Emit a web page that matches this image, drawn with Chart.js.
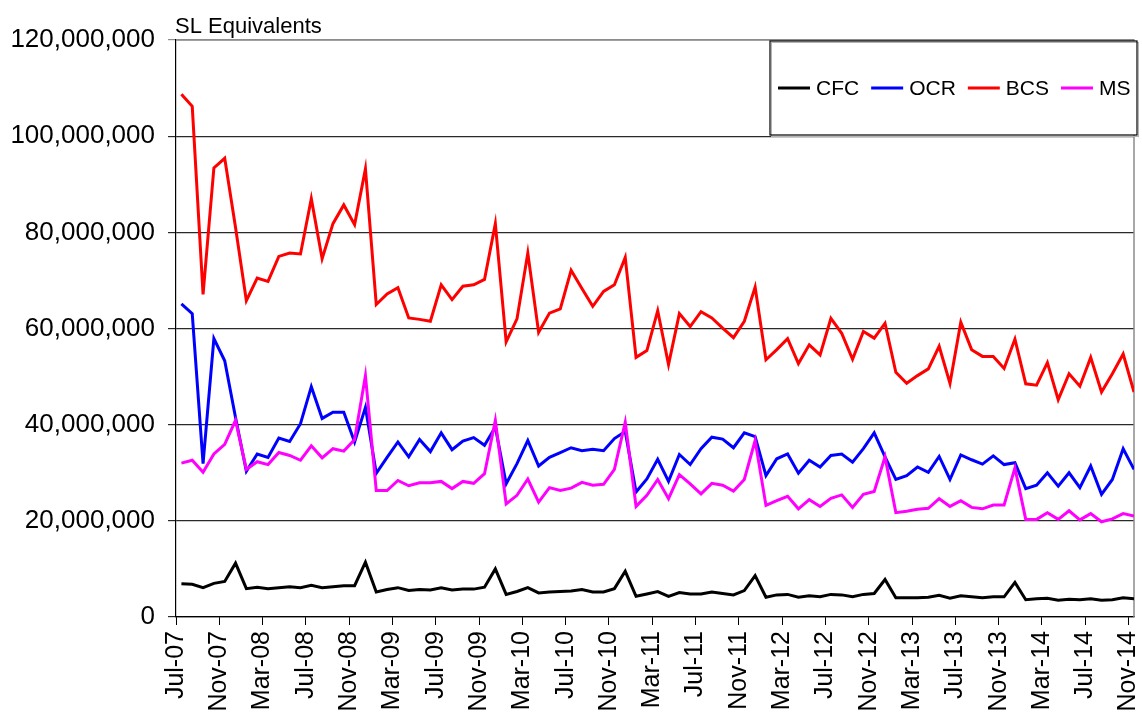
<!DOCTYPE html>
<html>
<head>
<meta charset="utf-8">
<script src="https://cdn.jsdelivr.net/npm/chart.js@4"></script>
<style>
  html, body { margin: 0; padding: 0; background: #fff; }
  #wrap { width: 1142px; height: 720px; position: relative; }
</style>
</head>
<body>
<div id="wrap"><canvas id="chart"></canvas></div>
<script>
// ================= DATA =================
// monthly values in millions, Jul-07 .. Nov-14 (89 months)
const tickLabels = [
    "Jul-07", "Nov-07", "Mar-08", "Jul-08", "Nov-08", "Mar-09", "Jul-09", "Nov-09",
    "Mar-10", "Jul-10", "Nov-10", "Mar-11", "Jul-11", "Nov-11", "Mar-12", "Jul-12",
    "Nov-12", "Mar-13", "Jul-13", "Nov-13", "Mar-14", "Jul-14", "Nov-14"
];
const monthsPerTick = 4;

const cfc = [
    6.9, 6.8, 6.1, 7.0, 7.4, 11.2, 5.9, 6.2, 5.9, 6.1, 6.3, 6.1, 6.6, 6.1, 6.3, 6.5, 6.5, 11.4,
    5.2, 5.7, 6.1, 5.5, 5.7, 5.6, 6.1, 5.6, 5.8, 5.8, 6.2, 10.0,
    4.7, 5.3, 6.1, 5.0, 5.2, 5.3, 5.4, 5.7, 5.2, 5.2, 5.9, 9.5,
    4.3, 4.8, 5.3, 4.3, 5.1, 4.8, 4.8, 5.2, 4.9, 4.6, 5.5, 8.6,
    4.1, 4.6, 4.7, 4.1, 4.4, 4.2, 4.7, 4.6, 4.2, 4.7, 4.9, 7.8,
    4.0, 4.0, 4.0, 4.1, 4.5, 3.9, 4.4, 4.2, 4.0, 4.2, 4.2, 7.2,
    3.6, 3.8, 3.9, 3.5, 3.7, 3.6, 3.8, 3.5, 3.6, 4.0, 3.8
];
const ocr = [
    65.1, 63.1, 31.9, 57.9, 53.3, 41.5, 30.3, 33.9, 33.2, 37.2, 36.5, 40.2, 47.9, 41.3, 42.6, 42.6, 36.4, 43.6,
    29.9, 33.2, 36.4, 33.3, 36.9, 34.4, 38.3, 34.8, 36.6, 37.3, 35.7, 39.5,
    27.7, 31.9, 36.7, 31.4, 33.2, 34.2, 35.2, 34.6, 34.9, 34.6, 37.1, 38.6,
    26.0, 28.7, 32.8, 28.2, 33.8, 31.7, 35.0, 37.4, 37.0, 35.2, 38.3, 37.5,
    29.4, 32.9, 33.9, 29.9, 32.6, 31.2, 33.6, 33.9, 32.2, 35.0, 38.3, 33.3,
    28.6, 29.4, 31.2, 30.1, 33.4, 28.6, 33.7, 32.7, 31.8, 33.5, 31.7, 32.1,
    26.7, 27.4, 30.0, 27.2, 30.0, 26.9, 31.4, 25.5, 28.6, 35.0, 30.7
];
const bcs = [
    108.7, 106.2, 67.1, 93.4, 95.4, 81.0, 65.8, 70.5, 69.8, 75.0, 75.7, 75.5, 87.0, 74.5, 81.8, 85.7, 81.6, 93.2,
    65.0, 67.2, 68.5, 62.2, 61.9, 61.5, 69.1, 66.0, 68.8, 69.1, 70.2, 81.8,
    57.2, 62.0, 75.7, 59.2, 63.2, 64.1, 72.1, 68.3, 64.6, 67.7, 69.1, 74.8,
    54.0, 55.4, 63.7, 52.5, 63.1, 60.4, 63.5, 62.2, 60.1, 58.1, 61.5, 68.6,
    53.5, 55.6, 57.9, 52.7, 56.6, 54.5, 62.1, 59.0, 53.6, 59.4, 58.0, 61.1,
    50.9, 48.6, 50.2, 51.6, 56.3, 48.6, 61.3, 55.6, 54.2, 54.2, 51.7, 57.8,
    48.5, 48.2, 52.9, 45.2, 50.6, 48.0, 54.0, 46.8, 50.6, 54.7, 46.8
];
const ms = [
    32.0, 32.6, 30.1, 33.9, 35.9, 40.9, 30.7, 32.3, 31.7, 34.2, 33.6, 32.6, 35.6, 33.1, 35.0, 34.5, 36.9, 50.2,
    26.3, 26.3, 28.4, 27.3, 27.9, 27.9, 28.2, 26.7, 28.2, 27.8, 29.8, 40.9,
    23.5, 25.3, 28.7, 23.9, 26.9, 26.3, 26.8, 28.0, 27.4, 27.6, 30.7, 40.5,
    23.0, 25.3, 28.6, 24.6, 29.6, 27.7, 25.6, 27.8, 27.4, 26.2, 28.6, 36.7,
    23.2, 24.2, 25.1, 22.5, 24.4, 23.0, 24.7, 25.4, 22.8, 25.5, 26.1, 33.3,
    21.7, 22.0, 22.4, 22.6, 24.6, 23.0, 24.2, 22.8, 22.5, 23.3, 23.3, 31.0,
    20.3, 20.3, 21.7, 20.3, 22.1, 20.2, 21.5, 19.8, 20.4, 21.5, 21.0
];

const seriesNames = ["CFC", "OCR", "BCS", "MS"];
const seriesValues = [cfc, ocr, bcs, ms];
const seriesColors = ["#000000", "#0000ff", "#ff0000", "#ff00ff"];

const yTitle = "SL Equivalents";
const yMax = 120000000;
const yStep = 20000000;
const UNIT = 1000000;

const FONT = "'Liberation Sans', Arial, sans-serif";
Chart.defaults.font.family = FONT;
Chart.defaults.color = "#000";


// ================= HELPERS =================
// values sit in the middle of their month
function toPoints(values) {
    return values.map((v, i) => ({ x: i + 0.5, y: v * UNIT }));
}

const monthCount = cfc.length;


// ================= PLUGIN: frame, title, legend =================
const framePlugin = {
    id: "frame",
    beforeDatasetsDraw(chart) {
        const { ctx, chartArea: a } = chart;
        ctx.save();
        ctx.strokeStyle = "#8c8c8c";
        ctx.lineWidth = 1.5;
        ctx.beginPath();
        ctx.moveTo(a.left, a.top);
        ctx.lineTo(a.right, a.top);
        ctx.lineTo(a.right, a.bottom);
        ctx.stroke();
        ctx.restore();
    },
    afterDraw(chart) {
        const { ctx, chartArea: a } = chart;
        ctx.save();

        // axis title above the plot
        ctx.font = "22px " + FONT;
        ctx.fillStyle = "#000";
        ctx.textAlign = "left";
        ctx.textBaseline = "alphabetic";
        ctx.fillText(yTitle, a.left - 1, a.top - 7);

        // legend box
        const boxRight = a.right + 3;
        const boxLeft = boxRight - 367;
        const boxTop = a.top + 1;
        const boxH = 94;
        ctx.fillStyle = "#fff";
        ctx.fillRect(boxLeft, boxTop, boxRight - boxLeft, boxH);
        ctx.strokeStyle = "#b4b4b4";
        ctx.lineWidth = 1;
        ctx.strokeRect(boxLeft + 1.5, boxTop + 1.5, boxRight - boxLeft, boxH);
        ctx.strokeStyle = "#000";
        ctx.lineWidth = 1.2;
        ctx.strokeRect(boxLeft, boxTop, boxRight - boxLeft, boxH);

        ctx.font = "21px " + FONT;
        ctx.textBaseline = "middle";
        const cy = boxTop + 47;
        let x = boxLeft + 8;
        seriesNames.forEach((name, i) => {
            ctx.strokeStyle = seriesColors[i];
            ctx.lineWidth = 3;
            ctx.beginPath();
            ctx.moveTo(x, cy);
            ctx.lineTo(x + 32, cy);
            ctx.stroke();
            x += 38;
            ctx.fillStyle = "#000";
            ctx.fillText(name, x, cy + 1);
            x += ctx.measureText(name).width + 12;
        });

        ctx.restore();
    }
};


// ================= CHART =================
const datasets = seriesNames.map((name, i) => ({
    label: name,
    data: toPoints(seriesValues[i]),
    borderColor: seriesColors[i],
    backgroundColor: seriesColors[i],
    borderWidth: 3,
    pointRadius: 0,
    tension: 0,
    fill: false,
    order: seriesNames.length - i   // last series drawn on top
}));

new Chart(document.getElementById("chart"), {
    type: "line",
    data: { datasets },
    options: {
        responsive: true,
        maintainAspectRatio: false,
        animation: false,
        layout: { padding: { top: 40, right: 8, left: 0, bottom: 0 } },
        plugins: {
            legend: { display: false },
            tooltip: { enabled: false },
            title: { display: false }
        },
        scales: {
            x: {
                type: "linear",
                min: 0,
                max: monthCount - 0.5,
                afterBuildTicks(scale) {
                    scale.ticks = tickLabels.map((_, k) => ({ value: k * monthsPerTick }));
                },
                afterFit(scale) {
                    scale.height = 103;
                    scale.paddingLeft = 0;
                    scale.paddingRight = 0;
                },
                ticks: {
                    autoSkip: false,
                    maxRotation: 90,
                    minRotation: 90,
                    padding: 6,
                    color: "#000",
                    font: { size: 25 },
                    callback: (value, index) => tickLabels[index]
                },
                grid: {
                    drawOnChartArea: false,
                    drawTicks: true,
                    tickLength: 8,
                    color: "#000",
                    lineWidth: 1
                },
                border: { color: "#000", width: 1.2 }
            },
            y: {
                min: 0,
                max: yMax,
                afterFit(scale) {
                    scale.width = 176;
                    scale.paddingTop = 0;
                    scale.paddingBottom = 0;
                },
                ticks: {
                    stepSize: yStep,
                    padding: 13,
                    color: "#000",
                    font: { size: 26 },
                    callback: v => v.toLocaleString("en-US")
                },
                grid: {
                    tickLength: 8,
                    lineWidth: 1.2,
                    color: ctx => (ctx.tick && ctx.tick.value === yMax) ? "#8c8c8c" : "#2a2a2a"
                },
                border: { color: "#000", width: 1.2 }
            }
        }
    },
    plugins: [framePlugin]
});
</script>
</body>
</html>
